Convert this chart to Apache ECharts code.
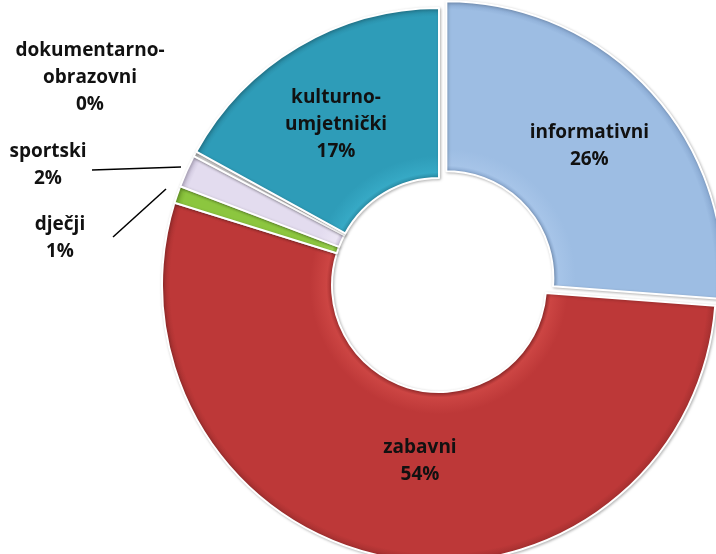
<!DOCTYPE html>
<html>
<head>
<meta charset="utf-8">
<script src="https://cdn.jsdelivr.net/npm/echarts@6/dist/echarts.min.js"></script>
<style>
  html, body { margin: 0; padding: 0; background: #fff; }
  #chart { width: 716px; height: 554px; }
</style>
</head>
<body>
<div id="chart"></div>
<script>
// categories clockwise from 12 o'clock
const categories = ['informativni', 'zabavni', 'dječji', 'sportski', 'dokumentarno-obrazovni', 'kulturno-umjetnički'];
const shares = [26.2, 53.6, 1.0, 1.9, 0.3, 17.0];
const baseColors = ['#9dbde3', '#bd3838', '#8cc63f', '#e3dcef', '#d9d9d9', '#2e9cb8'];
const edgeColors = ['#86a6cf', '#a32f2f', '#73a82e', '#c3bad3', '#b5b5b5', '#2887a0'];
const lightColors = ['#a6c4e8', '#cc4543', '#9bd452', '#ebe5f4', '#e4e4e4', '#36a9c5'];

const center = [439, 285];
const rIn = 107, rOut = 277;
const explode = 10;

// label anchors (text only)
const labelPos = [[587, 158], [420, 461], [60, 238], [48, 165], [90, 78], [336, 125]];
const labelLines = {
  2: [[113, 237], [166, 189]],
  3: [[92, 170], [181, 167]]
};

// fake bevel: gradient in the sector's local coords (offset is a transform)
function bevel(i) {
  const f = rIn / rOut;
  return new echarts.graphic.RadialGradient(center[0], center[1], rOut, [
    { offset: f, color: edgeColors[i] },
    { offset: f + 0.02, color: lightColors[i] },
    { offset: f + 0.08, color: baseColors[i] },
    { offset: 0.97, color: baseColors[i] },
    { offset: 1, color: edgeColors[i] }
  ], true);
}

const chart = echarts.init(document.getElementById('chart'));

const data = categories.map(function (name, i) {
  const inside = i === 0 || i === 1 || i === 5;
  return {
    name: name,
    value: shares[i],
    selected: i === 0,
    itemStyle: { color: bevel(i) },
    label: { position: inside ? 'inside' : 'outside' },
    labelLine: { show: i === 2 || i === 3 }
  };
});

chart.setOption({
  animation: false,
  series: [{
    type: 'pie',
    center: center,
    radius: [rIn, rOut],
    startAngle: 90,
    clockwise: true,
    selectedMode: 'single',
    selectedOffset: explode,
    avoidLabelOverlap: false,
    percentPrecision: 0,
    itemStyle: {
      borderColor: '#fff',
      borderWidth: 2,
      shadowBlur: 3,
      shadowColor: 'rgba(0,0,0,0.25)',
      shadowOffsetX: 1,
      shadowOffsetY: 1
    },
    label: {
      formatter: function (p) {
        return p.name.replace('-', '-\n') + '\n' + p.percent + '%';
      },
      fontFamily: 'Open Sans',
      fontWeight: 'bold',
      fontSize: 19,
      lineHeight: 27,
      color: '#111'
    },
    labelLine: {
      lineStyle: { color: '#000', width: 1.5 }
    },
    labelLayout: function (p) {
      const i = p.dataIndex;
      const res = {
        x: labelPos[i][0],
        y: labelPos[i][1],
        align: 'center',
        verticalAlign: 'middle'
      };
      if (labelLines[i]) {
        const l = labelLines[i];
        res.labelLinePoints = [l[0], l[1], l[1]];
      }
      return res;
    },
    emphasis: { disabled: true },
    select: { disabled: false, itemStyle: {} },
    data: data
  }]
});
</script>
</body>
</html>
